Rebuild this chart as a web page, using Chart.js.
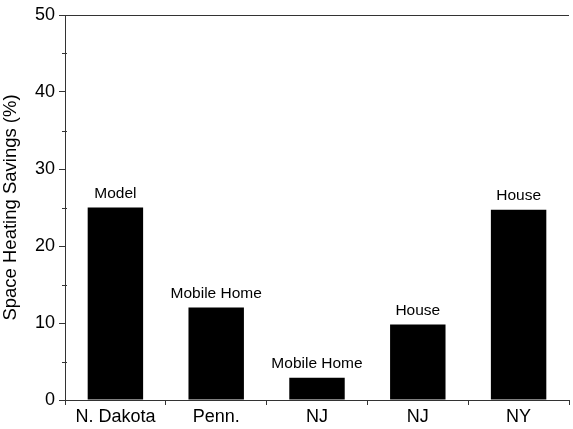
<!DOCTYPE html>
<html>
<head>
<meta charset="utf-8">
<script src="https://cdn.jsdelivr.net/npm/chart.js@4/dist/chart.umd.min.js"></script>
<style>
  html, body { margin: 0; padding: 0; background: #fff; }
  #wrap { width: 573px; height: 429px; }
</style>
</head>
<body>
<div id="wrap"><canvas id="savings"></canvas></div>
<script>
var sites = ["N. Dakota", "Penn.", "NJ", "NJ", "NY"];
var savings = [25, 12, 2.9, 9.8, 24.7];
var houseTypes = ["Model", "Mobile Home", "Mobile Home", "House", "House"];
var yTicks = [0, 10, 20, 30, 40, 50];

var fontFamily = "Arial, 'Liberation Sans', sans-serif";

// text over each bar + minor ticks + top frame line
var extras = {
    id: "extras",
    afterDatasetsDraw: function (chart) {
        var c = chart.ctx;
        var area = chart.chartArea;
        var y = chart.scales.y;
        c.save();
        c.strokeStyle = "#333";
        c.lineWidth = 1;
        c.beginPath();
        c.moveTo(area.left, area.top + 0.5);
        c.lineTo(area.right, area.top + 0.5);
        for (var v = 5; v < 50; v += 10) {
            var py = Math.round(y.getPixelForValue(v)) + 0.5;
            c.moveTo(area.left - 3, py);
            c.lineTo(area.left + 2, py);
        }
        c.stroke();

        c.fillStyle = "#000";
        c.font = "15.5px " + fontFamily;
        c.textAlign = "center";
        c.textBaseline = "alphabetic";
        chart.getDatasetMeta(0).data.forEach(function (bar, i) {
            c.fillText(houseTypes[i], bar.x, bar.y - 10);
        });
        c.restore();
    }
};

var ctx = document.getElementById("savings");
var myChart = new Chart(ctx, {
    type: "bar",
    data: {
        labels: sites,
        datasets: [
            {
                data: savings,
                backgroundColor: "#000",
                borderWidth: 0,
                barPercentage: 0.55,
                categoryPercentage: 1,
            },
        ],
    },
    options: {
        responsive: true,
        maintainAspectRatio: false,
        animation: false,
        layout: { padding: { top: 15, right: 4, left: 0, bottom: 0 } },
        plugins: {
            legend: { display: false },
            tooltip: { enabled: false },
        },
        scales: {
            x: {
                grid: {
                    offset: true,
                    drawOnChartArea: false,
                    tickLength: 5,
                    color: "#333",
                },
                border: { color: "#333" },
                ticks: {
                    color: "#000",
                    font: { family: fontFamily, size: 18 },
                    padding: 1,
                },
                afterFit: function (scale) { scale.height = 29; },
            },
            y: {
                min: 0,
                max: 50,
                afterBuildTicks: function (scale) {
                    scale.ticks = yTicks.map(function (v) { return { value: v }; });
                },
                grid: {
                    drawOnChartArea: false,
                    tickLength: 6,
                    color: "#333",
                },
                border: { color: "#333" },
                ticks: {
                    color: "#000",
                    font: { family: fontFamily, size: 18 },
                    padding: 4,
                },
                title: {
                    display: true,
                    text: "Space Heating Savings (%)",
                    color: "#000",
                    font: { family: fontFamily, size: 18.5 },
                    padding: { top: 0, bottom: 2 },
                },
                afterFit: function (scale) { scale.width = 65; },
            },
        },
    },
    plugins: [extras],
});
</script>
</body>
</html>
